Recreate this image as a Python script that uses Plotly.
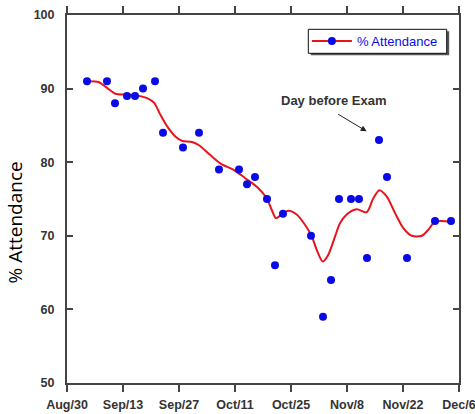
import plotly.graph_objects as go

# Attendance data points (lecture dates, Fall 2009)
point_dates = ["2009-09-04", "2009-09-09", "2009-09-11", "2009-09-14", "2009-09-16",
               "2009-09-18", "2009-09-21", "2009-09-23", "2009-09-28", "2009-10-02",
               "2009-10-07", "2009-10-12", "2009-10-14", "2009-10-16", "2009-10-19",
               "2009-10-21", "2009-10-23", "2009-10-30", "2009-11-02", "2009-11-04",
               "2009-11-06", "2009-11-09", "2009-11-11", "2009-11-13", "2009-11-16",
               "2009-11-18", "2009-11-23", "2009-11-30", "2009-12-04"]
attendance = [91, 91, 88, 89, 89, 90, 91, 84, 82, 84,
              79, 79, 77, 78, 75, 66, 73, 70, 59, 64,
              75, 75, 75, 67, 83, 78, 67, 72, 72]

# Smoothed trend curve
trend_dates = ["2009-09-04", "2009-09-06 21:00", "2009-09-09", "2009-09-11 02:00",
               "2009-09-13 14:00", "2009-09-16 02:00", "2009-09-19", "2009-09-20 19:00",
               "2009-09-22 07:00", "2009-09-24", "2009-09-26 02:00", "2009-09-27 18:00",
               "2009-09-30 06:00", "2009-10-02", "2009-10-04 18:00", "2009-10-07 17:00",
               "2009-10-10 14:00", "2009-10-13 12:00", "2009-10-16 19:00", "2009-10-18 22:00",
               "2009-10-20 05:00", "2009-10-21 06:00", "2009-10-22 17:00", "2009-10-24 07:00",
               "2009-10-26 10:00", "2009-10-28 12:00", "2009-10-30 05:00", "2009-10-31 10:00",
               "2009-11-01 22:00", "2009-11-03 07:00", "2009-11-05", "2009-11-06 06:00",
               "2009-11-07 22:00", "2009-11-10 10:00", "2009-11-12 22:00", "2009-11-14 14:00",
               "2009-11-16 02:00", "2009-11-17 22:00", "2009-11-20", "2009-11-22 02:00",
               "2009-11-24 05:00", "2009-11-26 17:00", "2009-11-28 07:00", "2009-11-30",
               "2009-12-04"]
trend_values = [91.0, 90.9, 90.1, 89.3, 89.2, 89.1, 88.7, 88.05, 86.5, 84.9,
                83.5, 82.9, 82.75, 82.3, 81.0, 79.7, 79.0, 77.85, 76.5, 75.1,
                73.5, 72.4, 72.9, 73.4, 72.9, 71.5, 69.9, 68.1, 66.5, 67.4,
                69.9, 71.7, 72.9, 73.6, 73.2, 75.1, 76.2, 75.35, 73.1, 71.05,
                70.0, 70.0, 70.8, 71.9, 71.9]

tick_dates = ["2009-08-30", "2009-09-13", "2009-09-27", "2009-10-11", "2009-10-25",
              "2009-11-08", "2009-11-22", "2009-12-06"]
tick_labels = ["Aug/30", "Sep/13", "Sep/27", "Oct/11", "Oct/25", "Nov/8", "Nov/22", "Dec/6"]
y_ticks = [50, 60, 70, 80, 90, 100]

series_name = "% Attendance"
y_title = "% Attendance"
note_text = "Day before Exam"

RED = "#e8141c"
BLUE = "#0a0ae6"
AXIS = "#444444"
TXT = "#333333"

fig = go.Figure()
fig.add_trace(go.Scatter(x=trend_dates, y=trend_values, mode="lines",
                         line=dict(color=RED, width=2, shape="spline", smoothing=0.8),
                         showlegend=False, hoverinfo="skip"))
fig.add_trace(go.Scatter(x=point_dates, y=attendance, mode="markers",
                         marker=dict(color=BLUE, size=8), showlegend=False))
# legend entry: red line with blue marker
fig.add_trace(go.Scatter(x=[None], y=[None], mode="lines+markers", name=series_name,
                         line=dict(color=RED, width=2),
                         marker=dict(color=BLUE, size=8)))

fig.update_layout(
    width=475, height=414,
    margin=dict(l=67, r=16, t=15, b=31),
    paper_bgcolor="white", plot_bgcolor="white",
    font=dict(family="Liberation Sans, Arial, sans-serif", size=10, color=TXT),
    legend=dict(x=0.612, y=0.929, xanchor="left", yanchor="middle",
                bgcolor="rgba(0,0,0,0)", borderwidth=0,
                font=dict(color=BLUE, size=13), itemwidth=40,
                tracegroupgap=0),
    xaxis=dict(type="date", range=["2009-08-30", "2009-12-06"], automargin=False,
               tickmode="array", tickvals=tick_dates, ticktext=tick_labels,
               ticks="outside", ticklen=7, tickwidth=1.5, tickcolor=AXIS,
               showline=True, linewidth=2, linecolor=AXIS, mirror="ticks",
               showgrid=False, zeroline=False, ticklabeloverflow="allow",
               tickfont=dict(size=12.5, color=TXT, weight="bold"), ticklabelstandoff=2),
    yaxis=dict(range=[50, 100], tickmode="array", tickvals=y_ticks, automargin=False,
               ticks="inside", ticklen=6, tickwidth=1.5, tickcolor=AXIS,
               showline=True, linewidth=2, linecolor=AXIS, mirror="ticks",
               showgrid=False, zeroline=False, ticklabeloverflow="allow",
               tickfont=dict(size=12.5, color=TXT, weight="bold"), ticklabelstandoff=8),
)

# legend frame with drop shadow
fig.add_shape(type="rect", xref="paper", yref="paper",
              x0=0.622, x1=0.975, y0=0.8905, y1=0.9557,
              fillcolor="#555555", line=dict(width=0), layer="above")
fig.add_shape(type="rect", xref="paper", yref="paper",
              x0=0.6156, x1=0.9686, y0=0.8959, y1=0.9611,
              fillcolor="white", line=dict(color="#111111", width=1), layer="above")

fig.add_annotation(x=-0.133, y=0.436, xref="paper", yref="paper",
                   xanchor="center", yanchor="middle",
                   text=y_title, textangle=-90, showarrow=False,
                   font=dict(family="Open Sans, sans-serif", size=19, color="black"))

fig.add_annotation(x="2009-11-04 18:00", y=88.45, text=note_text, showarrow=False,
                   font=dict(size=13, color=TXT, weight="bold"))
fig.add_annotation(x="2009-11-12 22:00", y=84.2, ax=-30, ay=-18, text="",
                   showarrow=True, arrowhead=2, arrowsize=1.2, arrowwidth=1,
                   arrowcolor="#222222")

fig.write_html("out.html", config={"displayModeBar": False},
               post_script="document.body.style.margin='0';")
